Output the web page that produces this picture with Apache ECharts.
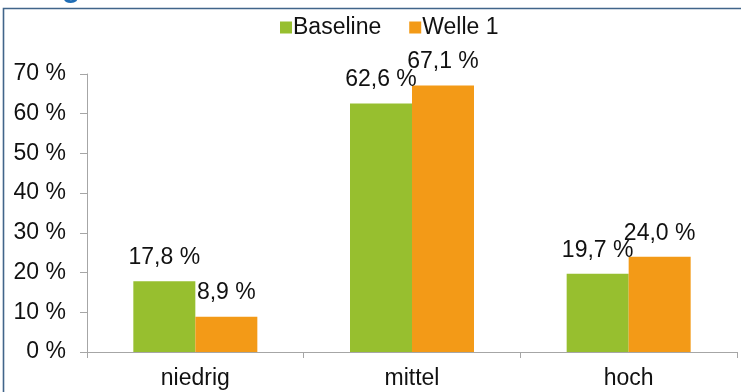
<!DOCTYPE html>
<html>
<head>
<meta charset="utf-8">
<script src="https://cdn.jsdelivr.net/npm/echarts@6/dist/echarts.min.js"></script>
<style>
  html, body { margin: 0; padding: 0; background: #fff; }
  #chart { width: 741px; height: 392px; }
</style>
</head>
<body>
<div id="chart"></div>
<script>
// Categories and shares (in percent) per survey wave
const categories = ['niedrig', 'mittel', 'hoch'];
const baseline = [17.8, 62.6, 19.7];
const welle1 = [8.9, 67.1, 24.0];
const seriesNames = ['Baseline', 'Welle 1'];
const yTicks = [0, 10, 20, 30, 40, 50, 60, 70];

const FONT = '"Liberation Sans", Arial, sans-serif';
const FS = 23;
const GREEN = '#97BF2F';
const ORANGE = '#F39A17';
const AXIS = '#A6A6A6';

const fmtPct = v => v.toFixed(1).replace('.', ',') + ' %';

const chart = echarts.init(document.getElementById('chart'), null, { renderer: 'canvas' });

const labelStyle = {
  show: true,
  position: 'top',
  distance: 12,
  fontFamily: FONT,
  fontSize: FS,
  color: '#111',
  formatter: p => fmtPct(p.value)
};

chart.setOption({
  animation: false,
  backgroundColor: '#fff',
  textStyle: { fontFamily: FONT },
  graphic: [
    // descender of the heading above the frame
    {
      type: 'text', left: 62, top: -26, silent: true,
      style: { text: 'g', font: 'bold 30px ' + FONT, fill: '#1F6DB5' }
    },
    // frame lines (top and left)
    {
      type: 'polyline', silent: true,
      shape: { points: [[3.5, 392], [3.5, 8.5], [741, 8.5]] },
      style: { stroke: '#41658A', lineWidth: 1.6, fill: null }
    }
  ],
  legend: {
    top: 11,
    left: 275,
    itemWidth: 12,
    itemHeight: 12,
    itemGap: 28,
    icon: 'rect',
    textStyle: { fontFamily: FONT, fontSize: FS, color: '#111', padding: [0, 0, 0, -4] },
    data: seriesNames
  },
  grid: { left: 87, right: 4, top: 74, bottom: 40, containLabel: false },
  xAxis: {
    type: 'category',
    data: categories,
    axisLine: { lineStyle: { color: AXIS, width: 1 } },
    axisTick: { show: true, alignWithLabel: false, length: 6, lineStyle: { color: AXIS } },
    axisLabel: { fontFamily: FONT, fontSize: FS, color: '#111', margin: 15 }
  },
  yAxis: {
    type: 'value',
    min: yTicks[0],
    max: yTicks[yTicks.length - 1],
    interval: 10,
    axisLine: { show: true, lineStyle: { color: AXIS, width: 1 } },
    axisTick: { show: true, inside: false, length: 7, lineStyle: { color: AXIS } },
    splitLine: { show: false },
    axisLabel: { fontFamily: FONT, fontSize: FS, color: '#111', margin: 21, formatter: '{value} %' }
  },
  series: [
    {
      name: seriesNames[0], type: 'bar', data: baseline,
      barWidth: 62, barGap: '0%',
      itemStyle: { color: GREEN },
      label: labelStyle
    },
    {
      name: seriesNames[1], type: 'bar', data: welle1,
      barWidth: 62, barGap: '0%',
      itemStyle: { color: ORANGE },
      label: labelStyle
    }
  ]
});
</script>
</body>
</html>
